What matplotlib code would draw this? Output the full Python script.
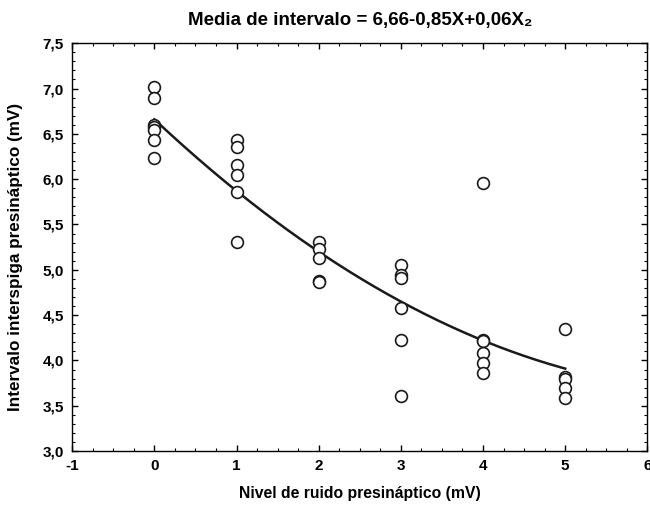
import numpy as np
import matplotlib
matplotlib.use("Agg")
import matplotlib.pyplot as plt
from matplotlib.ticker import MultipleLocator, FuncFormatter

plt.rcParams['font.family'] = ['Liberation Sans', 'DejaVu Sans']
plt.rcParams['font.weight'] = 'bold'

# valores
ruido = [0, 0, 0, 0, 0, 0, 0,
         1, 1, 1, 1, 1, 1,
         2, 2, 2, 2, 2,
         3, 3, 3, 3, 3, 3,
         4, 4, 4, 4, 4, 4,
         5, 5, 5, 5, 5]
intervalo = [7.02, 6.89, 6.60, 6.58, 6.54, 6.43, 6.23,
             6.43, 6.35, 6.16, 6.05, 5.86, 5.31,
             5.31, 5.23, 5.13, 4.88, 4.86,
             5.05, 4.94, 4.91, 4.58, 4.23, 3.61,
             5.96, 4.23, 4.22, 4.08, 3.97, 3.86,
             4.35, 3.82, 3.80, 3.70, 3.59]

# ajuste quadratico do titulo
b0, b1, b2 = 6.66, -0.85, 0.06

fig = plt.figure(figsize=(6.5, 5.08), dpi=100)
ax = fig.add_axes([0.111, 0.112, 0.885, 0.803])

xs = np.linspace(0, 5, 200)
ax.plot(xs, b0 + b1 * xs + b2 * xs ** 2, color='#1a1a1a', lw=1.8, zorder=2)
ax.plot(ruido, intervalo, 'o', mfc='white', mec='#1a1a1a', ms=8.5, mew=1.2, zorder=3)

ax.set_xlim(-1, 6)
ax.set_ylim(3.0, 7.5)
ax.xaxis.set_major_locator(MultipleLocator(1))
ax.xaxis.set_minor_locator(MultipleLocator(0.25))
ax.yaxis.set_major_locator(MultipleLocator(0.5))
ax.yaxis.set_minor_locator(MultipleLocator(0.1))
ax.yaxis.set_major_formatter(FuncFormatter(lambda v, p: ('%.1f' % v).replace('.', ',')))
ax.xaxis.set_major_formatter(FuncFormatter(lambda v, p: '%d' % round(v)))
ax.tick_params(which='both', direction='in', top=True, right=True, labelsize=11)
ax.tick_params(which='major', length=4, width=1, pad=6)
ax.tick_params(which='minor', length=2, width=0.8)
for s in ax.spines.values():
    s.set_linewidth(1.0)

ax.set_title('Media de intervalo = 6,66-0,85X+0,06X\u2082', fontsize=13.5, fontweight='bold', pad=13)
ax.set_xlabel('Nivel de ruido presináptico (mV)', fontsize=11.3, fontweight='bold', labelpad=9)
ax.set_ylabel('Intervalo interspiga presináptico (mV)', fontsize=12.3, fontweight='bold')
ax.yaxis.set_label_coords(-0.085, 0.475)

fig.savefig('out.png', dpi=100)
